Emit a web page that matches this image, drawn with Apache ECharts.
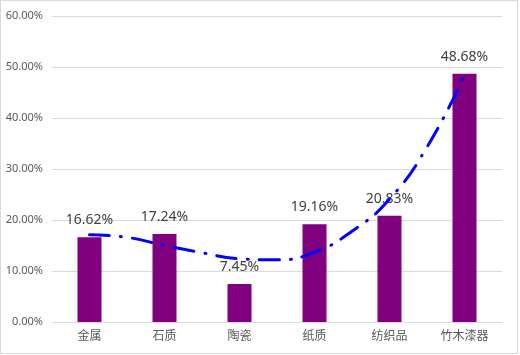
<!DOCTYPE html>
<html>
<head>
<meta charset="utf-8">
<script src="https://cdn.jsdelivr.net/npm/echarts@6/dist/echarts.min.js"></script>
<style>
html,body{margin:0;padding:0;background:#fff;}
#wrap{position:relative;width:520px;height:355px;}
#chart{position:absolute;left:0;top:0;width:520px;height:355px;}
#frame{position:absolute;left:0;top:0;width:516px;height:352px;border:1px solid #d9d9d9;pointer-events:none;}
</style>
</head>
<body>
<div id="wrap"><div id="chart"></div><div id="frame"></div></div>
<script>
// Data
const categories = ['金属', '石质', '陶瓷', '纸质', '纺织品', '竹木漆器'];
const shares = [16.62, 17.24, 7.45, 19.16, 20.83, 48.68];
// Trend curve (category position, percent)
const trendPos = [1, 1.5, 2, 2.5, 3, 3.5, 4, 4.5, 5, 5.5, 6];
const trendVal = [17.1, 16.6, 15.0, 13.6, 12.4, 12.2, 13.7, 17.8, 24.1, 34.3, 48.4];

const font = '"Noto Sans", "Noto Sans CJK SC", sans-serif';
const chart = echarts.init(document.getElementById('chart'), null, {renderer: 'canvas'});
chart.setOption({
  animation: false,
  backgroundColor: '#ffffff',
  grid: {left: 52, right: 18, top: 16, bottom: 33, containLabel: false},
  xAxis: [
    {
      type: 'category',
      data: categories,
      boundaryGap: true,
      axisLine: {show: true, lineStyle: {color: '#d9d9d9', width: 1}},
      axisTick: {show: false},
      axisLabel: {color: '#595959', fontSize: 12, fontFamily: font, margin: 9}
    },
    {
      type: 'value',
      min: 0.5,
      max: 6.5,
      show: false
    }
  ],
  yAxis: {
    type: 'value',
    min: 0,
    max: 60,
    interval: 10,
    axisLine: {show: false},
    axisTick: {show: false},
    splitLine: {lineStyle: {color: '#d9d9d9', width: 1}},
    axisLabel: {
      color: '#595959', fontSize: 11, fontFamily: font, margin: 9,
      formatter: v => v.toFixed(2) + '%'
    }
  },
  series: [
    {
      type: 'bar',
      data: shares,
      barWidth: 24,
      itemStyle: {color: '#800080'},
      label: {
        show: true,
        position: 'top',
        distance: 10,
        color: '#404040',
        fontSize: 14,
        fontFamily: font,
        formatter: p => p.value.toFixed(2) + '%'
      },
      z: 2
    },
    {
      type: 'line',
      xAxisIndex: 1,
      data: trendPos.map((x, i) => [x, trendVal[i]]),
      smooth: true,
      symbol: 'none',
      lineStyle: {color: '#0000ff', width: 3, type: [20, 11, 1, 11], cap: 'round'},
      z: 5
    }
  ]
});
</script>
</body>
</html>
